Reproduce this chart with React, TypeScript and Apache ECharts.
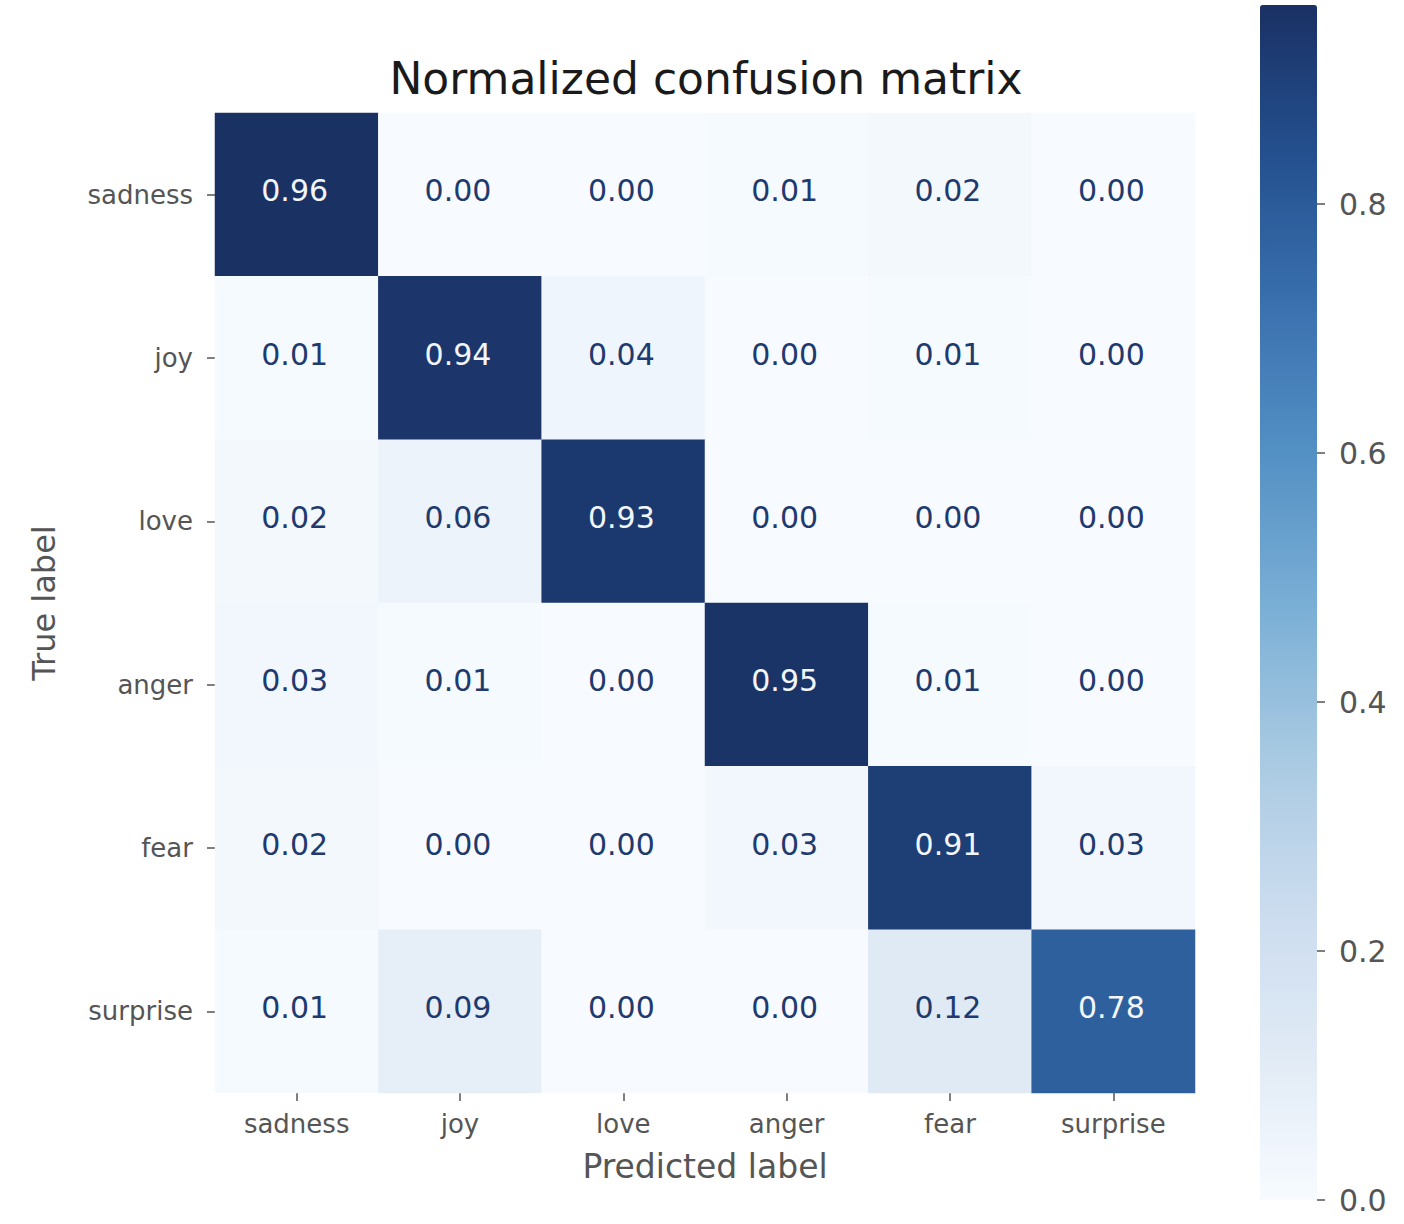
import React, { useEffect, useRef } from "react";
import * as echarts from "echarts";

const labels = ["sadness", "joy", "love", "anger", "fear", "surprise"];
const matrix: number[][] = [
  [0.96, 0.0, 0.0, 0.01, 0.02, 0.0],
  [0.01, 0.94, 0.04, 0.0, 0.01, 0.0],
  [0.02, 0.06, 0.93, 0.0, 0.0, 0.0],
  [0.03, 0.01, 0.0, 0.95, 0.01, 0.0],
  [0.02, 0.0, 0.0, 0.03, 0.91, 0.03],
  [0.01, 0.09, 0.0, 0.0, 0.12, 0.78],
];
const colorbarTicks = [0, 0.2, 0.4, 0.6, 0.8];
const vMin = 0;
const vMax = 0.96;
const blues = [
  "#f7fbff",
  "#e0eaf5",
  "#cadbee",
  "#a7c9e2",
  "#79aed5",
  "#5390c4",
  "#3a70ae",
  "#24508f",
  "#1a3164",
];

const FONT = "DejaVu Sans";

export default function App() {
  const ref = useRef<HTMLDivElement>(null);
  useEffect(() => {
    if (!ref.current) return;
    const chart = echarts.init(ref.current, null, { renderer: "svg" });
    const data: any[] = [];
    matrix.forEach((row, yi) =>
      row.forEach((v, xi) => {
        data.push({
          value: [xi, yi, v],
          label: {
            color: v > (vMin + vMax) / 2 ? "#f2f6fb" : "#1f3a6e",
          },
        });
      })
    );
    chart.setOption({
      animation: false,
      backgroundColor: "#ffffff",
      title: {
        text: "Normalized confusion matrix",
        left: 701,
        top: 51,
        textAlign: "center",
        textStyle: {
          fontFamily: FONT,
          fontSize: 44,
          fontWeight: "normal",
          color: "#1a1a1a",
        },
      },
      grid: [
        { left: 215, top: 113, width: 980, height: 980, containLabel: false },
        { left: 1260, top: 5, width: 57, height: 1195, containLabel: false },
      ],
      xAxis: [
        {
          type: "category",
          gridIndex: 0,
          data: labels,
          position: "bottom",
          name: "Predicted label",
          nameLocation: "middle",
          nameGap: 57,
          nameTextStyle: { fontFamily: FONT, fontSize: 33, color: "#555555" },
          axisLine: { show: false },
          axisTick: {
            show: true,
            alignWithLabel: true,
            length: 8,
            lineStyle: { color: "#555555", width: 1.5 },
          },
          axisLabel: {
            fontFamily: FONT,
            fontSize: 26,
            color: "#555555",
            margin: 18,
          },
          splitLine: { show: false },
        },
        {
          type: "value",
          gridIndex: 1,
          show: false,
          min: 0,
          max: 1,
        },
      ],
      yAxis: [
        {
          type: "category",
          gridIndex: 0,
          data: labels,
          inverse: true,
          name: "True label",
          nameLocation: "middle",
          nameGap: 155,
          nameTextStyle: { fontFamily: FONT, fontSize: 32, color: "#555555" },
          axisLine: { show: false },
          axisTick: {
            show: true,
            alignWithLabel: true,
            length: 8,
            lineStyle: { color: "#555555", width: 1.5 },
          },
          axisLabel: {
            fontFamily: FONT,
            fontSize: 26,
            color: "#555555",
            margin: 22,
          },
          splitLine: { show: false },
        },
        {
          type: "value",
          gridIndex: 1,
          position: "right",
          z: 10,
          min: vMin,
          max: vMax,
          axisLine: { show: false, onZero: false },
          axisTick: {
            show: true,
            length: 8,
            inside: false,
            customValues: colorbarTicks,
            lineStyle: { color: "#555555", width: 1.5 },
          },
          axisLabel: {
            fontFamily: FONT,
            fontSize: 30,
            color: "#555555",
            margin: 22,
            customValues: colorbarTicks,
            formatter: (v: number) => v.toFixed(1),
          },
          splitLine: { show: false },
        },
      ],
      visualMap: {
        type: "continuous",
        min: vMin,
        max: vMax,
        seriesIndex: 0,
        calculable: false,
        orient: "vertical",
        left: 1260,
        top: 5,
        itemWidth: 57,
        itemHeight: 1195,
        padding: 0,
        text: ["", ""],
        showLabel: false,
        inRange: { color: blues },
      },
      series: [
        {
          type: "heatmap",
          xAxisIndex: 0,
          yAxisIndex: 0,
          data,
          label: {
            show: true,
            fontFamily: FONT,
            fontSize: 30,
            offset: [-2, -4],
            formatter: (p: any) => p.value[2].toFixed(2),
          },
          itemStyle: { borderWidth: 0 },
          emphasis: { disabled: true },
        },
        {
          type: "line",
          xAxisIndex: 1,
          yAxisIndex: 1,
          data: [],
          silent: true,
        },
      ],
    });
    return () => chart.dispose();
  }, []);
  return (
    <div
      ref={ref}
      style={{ position: "fixed", left: 0, top: 0, width: 1404, height: 1224 }}
    />
  );
}
